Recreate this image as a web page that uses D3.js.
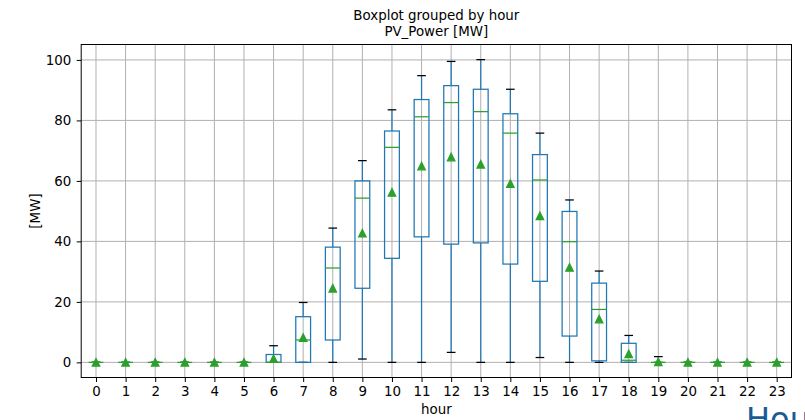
<!DOCTYPE html>
<html>
<head>
<meta charset="utf-8">
<script src="https://cdn.jsdelivr.net/npm/d3@7"></script>
<style>
  body { margin: 0; background: #fff; overflow: hidden; }
  svg { font-family: "DejaVu Sans", sans-serif; display: block; }
</style>
</head>
<body>
<div id="chart"></div>
<script>
// values (PV_Power [MW] by hour)
const hours       = d3.range(24);
const whiskerLow  = [0,0,0,0,0,0, 0,   0,   0,   1.1, 0,    0,    3.3,  0,    0,    1.6,  0,    0,    0,   0,   0,0,0,0];
const q1          = [0,0,0,0,0,0, 0,   0,   7.4, 24.5,34.4, 41.5, 39.1, 39.5, 32.5, 26.8, 8.7,  0.5,  0,   0,   0,0,0,0];
const medians     = [0,0,0,0,0,0, 0,   7.4, 31.2,54.3,71.1, 81.2, 85.9, 82.9, 75.8, 60.3, 39.9, 17.5, 0.7, 0,   0,0,0,0];
const q3          = [0,0,0,0,0,0, 2.6, 15.1,38.1,60.0,76.5, 86.9, 91.5, 90.3, 82.2, 68.7, 49.9, 26.2, 6.3, 0,   0,0,0,0];
const whiskerHigh = [0,0,0,0,0,0, 5.5, 19.8,44.4,66.7,83.5, 94.8, 99.5, 100.1,90.3, 75.8, 53.7, 30.2, 8.9, 1.9, 0,0,0,0];
const means       = [0,0,0,0,0,0, 1.2, 8.2, 24.5,42.7,56.2, 64.9, 67.9, 65.5, 59.1, 48.4, 31.4, 14.3, 2.8, 0.2, 0,0,0,0];
const yTicks = [0, 20, 40, 60, 80, 100];

const data = hours.map((h, i) => ({
  hour: h, lo: whiskerLow[i], q1: q1[i], med: medians[i], q3: q3[i], hi: whiskerHigh[i], mean: means[i]
}));

const W = 805, H = 420;
const FS = 13.4;
const margin = {top: 44.5, right: 13.5, bottom: 42.5, left: 81.2};
const innerW = W - margin.left - margin.right;
const innerH = H - margin.top - margin.bottom;

const svg = d3.select('#chart').append('svg')
  .attr('width', W)
  .attr('height', H);

const x = d3.scaleLinear().domain([-0.5, 23.5]).range([0, innerW]);
const y = d3.scaleLinear().domain([-5.005, 105.1]).range([innerH, 0]);
const unit = x(1) - x(0);
const boxW = 0.5 * unit;
const capW = 0.25 * unit;

const g = svg.append('g')
  .attr('transform', `translate(${margin.left},${margin.top})`);

// grid
g.append('g').selectAll('line.vg')
  .data(hours).join('line')
  .attr('x1', d => x(d)).attr('x2', d => x(d))
  .attr('y1', 0).attr('y2', innerH)
  .attr('stroke', '#b0b0b0').attr('stroke-width', 1);
g.append('g').selectAll('line.hg')
  .data(yTicks).join('line')
  .attr('x1', 0).attr('x2', innerW)
  .attr('y1', d => y(d)).attr('y2', d => y(d))
  .attr('stroke', '#b0b0b0').attr('stroke-width', 1);

const blue = '#1f77b4', green = '#2ca02c';

const boxes = g.append('g').selectAll('g.box')
  .data(data).join('g')
  .attr('class', 'box');

// whiskers
boxes.append('line')
  .attr('x1', d => x(d.hour)).attr('x2', d => x(d.hour))
  .attr('y1', d => y(d.q3)).attr('y2', d => y(d.hi))
  .attr('stroke', blue).attr('stroke-width', 1.25);
boxes.append('line')
  .attr('x1', d => x(d.hour)).attr('x2', d => x(d.hour))
  .attr('y1', d => y(d.q1)).attr('y2', d => y(d.lo))
  .attr('stroke', blue).attr('stroke-width', 1.25);

// caps
boxes.selectAll('line.cap')
  .data(d => [[d.hour, d.lo], [d.hour, d.hi]]).join('line')
  .attr('class', 'cap')
  .attr('x1', d => x(d[0]) - capW / 2).attr('x2', d => x(d[0]) + capW / 2)
  .attr('y1', d => y(d[1])).attr('y2', d => y(d[1]))
  .attr('stroke', '#000').attr('stroke-width', 1.25)
  .attr('stroke-linecap', 'square');

// boxes
boxes.append('rect')
  .attr('x', d => x(d.hour) - boxW / 2)
  .attr('width', boxW)
  .attr('y', d => y(d.q3))
  .attr('height', d => y(d.q1) - y(d.q3))
  .attr('fill', 'none')
  .attr('stroke', blue).attr('stroke-width', 1.25);

// medians
boxes.append('line')
  .attr('x1', d => x(d.hour) - boxW / 2).attr('x2', d => x(d.hour) + boxW / 2)
  .attr('y1', d => y(d.med)).attr('y2', d => y(d.med))
  .attr('stroke', green).attr('stroke-width', 1.25);

// means (triangle markers)
const tri = 3.75;
boxes.append('path')
  .attr('d', d => {
    const cx = x(d.hour), cy = y(d.mean);
    return `M${cx},${cy - tri}L${cx + tri},${cy + tri}L${cx - tri},${cy + tri}Z`;
  })
  .attr('fill', green).attr('stroke', green).attr('stroke-width', 1.25)
  .attr('stroke-linejoin', 'miter');

// axes
const xAxis = g.append('g')
  .attr('transform', `translate(0,${innerH})`)
  .call(d3.axisBottom(x).tickValues(hours).tickSize(4.5).tickPadding(4.5).tickSizeOuter(0));
const yAxis = g.append('g')
  .call(d3.axisLeft(y).tickValues(yTicks).tickSize(4.5).tickPadding(5.5).tickSizeOuter(0));
[xAxis, yAxis].forEach(a => {
  a.select('.domain').remove();
  a.selectAll('text').attr('font-size', FS).attr('fill', '#000')
    .attr('font-family', '"DejaVu Sans", sans-serif');
  a.selectAll('line').attr('stroke', '#000').attr('stroke-width', 1);
});

// frame
g.append('rect')
  .attr('width', innerW).attr('height', innerH)
  .attr('fill', 'none').attr('stroke', '#000').attr('stroke-width', 1);

// titles
const cx = margin.left + innerW / 2;
svg.append('text').attr('x', cx).attr('y', 19.5)
  .attr('text-anchor', 'middle').attr('font-size', FS)
  .text('Boxplot grouped by hour');
svg.append('text').attr('x', cx).attr('y', 36)
  .attr('text-anchor', 'middle').attr('font-size', FS)
  .text('PV_Power [MW]');
svg.append('text').attr('x', cx).attr('y', 414)
  .attr('text-anchor', 'middle').attr('font-size', FS)
  .text('hour');
svg.append('text')
  .attr('transform', `translate(40,${margin.top + innerH / 2}) rotate(-90)`)
  .attr('text-anchor', 'middle').attr('font-size', FS)
  .text('[MW]');

// heading of the next section, cut off by the window
svg.append('text').attr('x', 746).attr('y', 430)
  .attr('font-size', 32).attr('fill', '#1a5b95')
  .text('Hou');
</script>
</body>
</html>
